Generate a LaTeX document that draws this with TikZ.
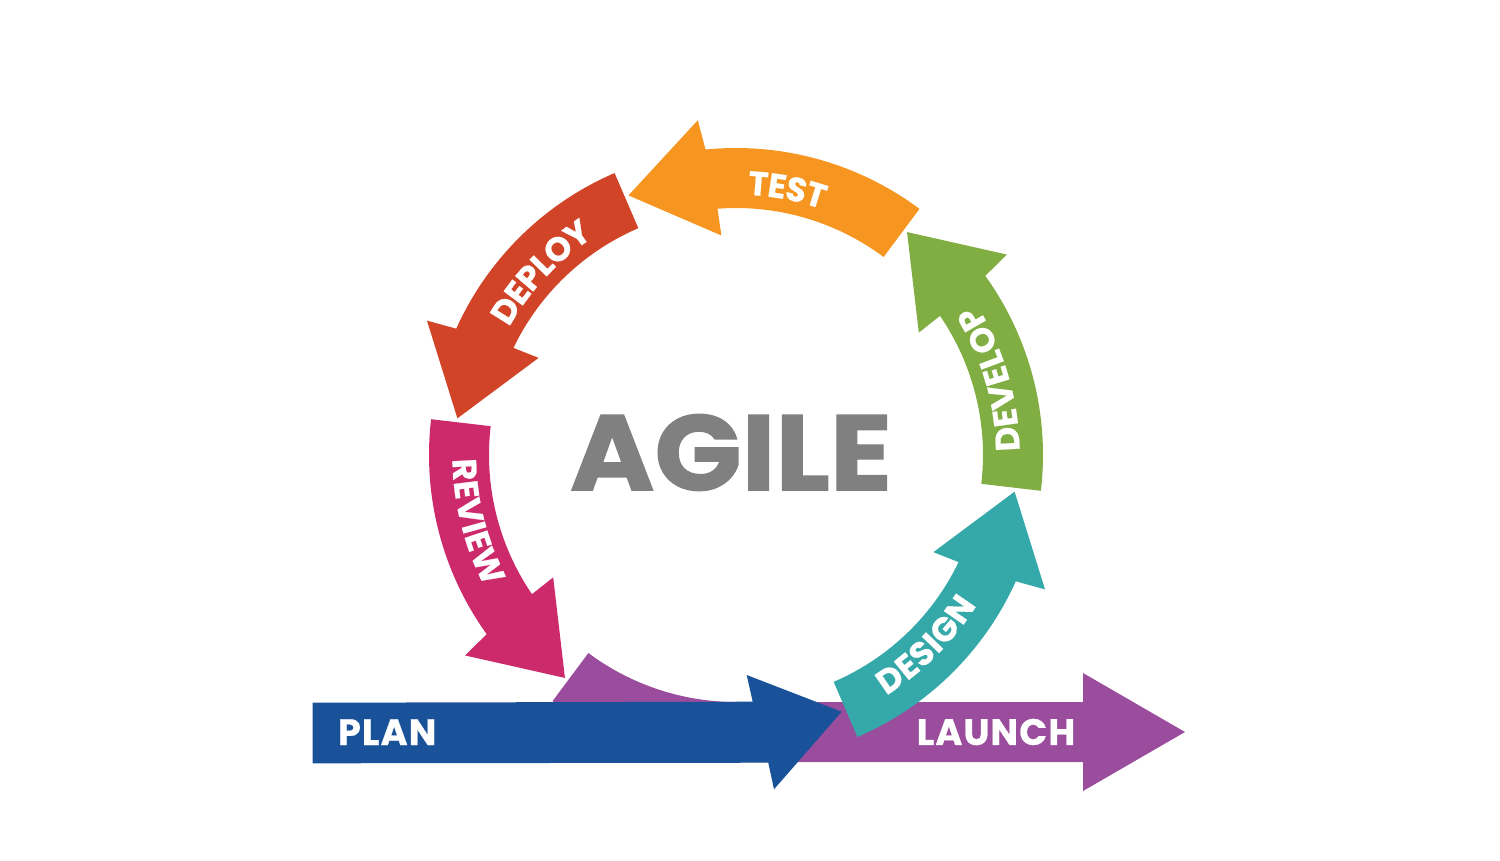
\documentclass[tikz,border=0pt]{standalone}
\usepackage{fontspec}
\usetikzlibrary{decorations.text}
\newfontfamily\agilefont{Poppins}[FakeBold=1.2]
\newfontfamily\ringfont{Poppins}[LetterSpace=3, FakeBold=0.6]

\definecolor{designcol}{HTML}{35A9A9}
\definecolor{developcol}{HTML}{80AE42}
\definecolor{testcol}{HTML}{F6951F}
\definecolor{deploycol}{HTML}{D14428}
\definecolor{reviewcol}{HTML}{CD2A6C}
\definecolor{launchcol}{HTML}{9A4D9D}
\definecolor{plancol}{HTML}{1A5299}
\definecolor{agilecol}{HTML}{808080}

% one curved arrow of the ring, #2 = angle of its tail
\newcommand{\ringarrow}[2]{%
	\fill[#1] (#2:247) arc[start angle=#2, end angle=#2+41, radius=247]
		-- ({#2+40.5}:220) -- ({#2+59.2}:281) -- ({#2+43.2}:337)
		-- ({#2+42.4}:307) arc[start angle=#2+42.4, end angle=#2, radius=307] -- cycle;}

\tikzset{
	ringlabel/.style={decorate, decoration={text along path, text align=center,
		text color=white, raise=-6.6pt,
		text={|\ringfont\bfseries\fontsize{19.2}{21}\selectfont|#1}}},
	barlabel/.style={text=white, inner sep=0pt,
		font=\ringfont\bfseries\fontsize{20.9}{22}\selectfont},
}

\begin{document}
\begin{tikzpicture}[x=0.02cm, y=0.02cm]
		\useasboundingbox (-736, -405) rectangle (764, 455);

		% launch band, tail on the ring
		\fill[launchcol] (233.3:307) -- (233.3:247)
			arc[start angle=233.3, end angle=270, radius=247]
			-- (347, -247) -- (347, -218) -- (449, -277) -- (347, -336)
			-- (347, -307) -- (0, -307)
			arc[start angle=270, end angle=233.3, radius=307] -- cycle;

		% plan arrow
		\fill[plancol] (-423.3, -247.7) -- (16.7, -246.7) -- (10.7, -220)
			-- (105.7, -256.7) -- (38, -334.3) -- (32.3, -307.7)
			-- (-423.3, -308.3) -- cycle;

		\ringarrow{reviewcol}{173.3}
		\ringarrow{deploycol}{113.3}
		\ringarrow{testcol}{53.3}
		\ringarrow{developcol}{353.3}
		\ringarrow{designcol}{293.3}

		\path[ringlabel=DESIGN] (-75:272) arc[start angle=-75, end angle=-15, radius=272];
		\path[ringlabel=DEVELOP] (-13.5:272) arc[start angle=-13.5, end angle=46.5, radius=272];
		\path[ringlabel=TEST] (109.1:272) arc[start angle=109.1, end angle=49.1, radius=272];
		\path[ringlabel=DEPLOY] (166.9:272) arc[start angle=166.9, end angle=106.9, radius=272];
		\path[ringlabel=REVIEW] (164.3:272) arc[start angle=164.3, end angle=224.3, radius=272];

		\node[text=agilecol, inner sep=0pt, xscale=1.07,
			font=\agilefont\bfseries\fontsize{60.9}{62}\selectfont] (agile) at (-5, 2.5) {AGILE};
		\node[barlabel] (plan) at (-348.8, -277.2) {PLAN};
		\node[barlabel] (launch) at (260, -277) {LAUNCH};
	\end{tikzpicture}
\end{document}
